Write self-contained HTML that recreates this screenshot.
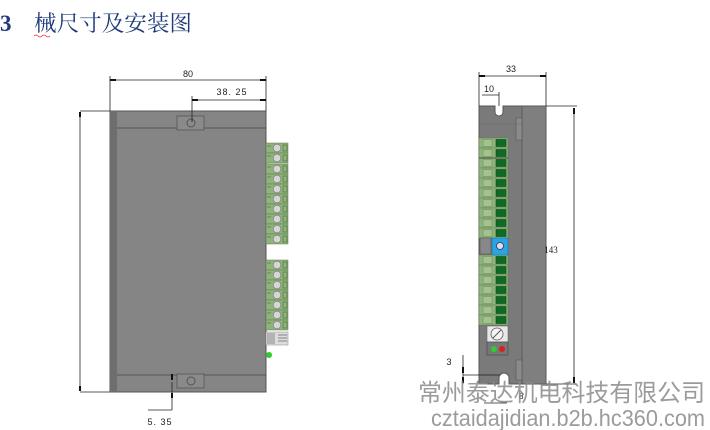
<!DOCTYPE html>
<html><head><meta charset="utf-8"><style>
html,body{margin:0;padding:0;background:#fff;width:710px;height:430px;overflow:hidden}
svg{display:block}
text{font-family:"Liberation Sans","Noto Sans CJK SC",sans-serif}
</style></head><body>
<svg width="710" height="430" viewBox="0 0 710 430" xmlns="http://www.w3.org/2000/svg">
<defs>
<g id="lc">
<rect x="0" y="0" width="22" height="10" fill="#8fb37a" stroke="#5d7a4f" stroke-width="0.5"/>
<circle cx="11" cy="5" r="3.8" fill="#d6d6d6" stroke="#777" stroke-width="0.6"/>
<rect x="17" y="2" width="4" height="6" fill="none" stroke="#4c6a40" stroke-width="0.6"/>
<line x1="1" y1="3" x2="5" y2="3" stroke="#4c6a40" stroke-width="0.6"/>
</g>
<g id="rc">
<rect x="0" y="0" width="29" height="10" fill="#8fb37a" stroke="#5d7a4f" stroke-width="0.5"/>
<rect x="4" y="1.5" width="9" height="7" fill="#a3c28f" stroke="#6b8a5c" stroke-width="0.5"/>
<rect x="17" y="1.5" width="10" height="7" fill="#0f6a26" stroke="#0a4a18" stroke-width="0.6"/>
</g>
</defs>
<text x="0" y="31" style="font-family:'Liberation Serif',serif;font-weight:bold" font-size="23" fill="#1f3a7a">3</text>
<text x="34" y="31" style="font-family:'Liberation Serif','Noto Serif CJK SC',serif" font-size="22" fill="#1f3a7a" textLength="158" lengthAdjust="spacingAndGlyphs">械尺寸及安装图</text>
<path d="M34 36 q2 -2 4 0 t4 0 t4 0 t4 0" stroke="#d33" fill="none" stroke-width="0.8"/>

<!-- left view -->
<rect x="110" y="111" width="156" height="281" fill="#858585" stroke="#555" stroke-width="1"/>
<rect x="110" y="111" width="7" height="281" fill="#6e6e6e"/>
<line x1="117" y1="128" x2="266" y2="128" stroke="#555"/>
<line x1="117" y1="375" x2="266" y2="375" stroke="#555"/>
<rect x="177" y="116" width="27" height="14" fill="#8a8a8a" stroke="#555" stroke-width="0.8"/>
<circle cx="191" cy="123" r="4" fill="none" stroke="#555"/>
<rect x="177" y="374" width="27" height="14" fill="#8a8a8a" stroke="#555" stroke-width="0.8"/>
<circle cx="191" cy="381" r="4" fill="none" stroke="#555"/>
<g>
<use href="#lc" x="266" y="143"/><use href="#lc" x="266" y="153"/><use href="#lc" x="266" y="164"/><use href="#lc" x="266" y="174"/><use href="#lc" x="266" y="184"/><use href="#lc" x="266" y="194"/><use href="#lc" x="266" y="204"/><use href="#lc" x="266" y="214"/><use href="#lc" x="266" y="224"/><use href="#lc" x="266" y="234"/>
<use href="#lc" x="266" y="260"/><use href="#lc" x="266" y="270"/><use href="#lc" x="266" y="280"/><use href="#lc" x="266" y="290"/><use href="#lc" x="266" y="300"/><use href="#lc" x="266" y="310"/><use href="#lc" x="266" y="320"/>
</g>
<rect x="266" y="332" width="22" height="13" fill="#ddd" stroke="#888" stroke-width="0.5"/>
<path d="M268 333v11M270 333v11M272 333v11M274 333v11M278 335h9M278 338h9M278 341h9" stroke="#666" stroke-width="0.7"/>
<circle cx="269" cy="355" r="3" fill="#2ecc2e"/>
<!-- dims left -->
<g stroke="#222" stroke-width="0.8" fill="none">
<line x1="110" y1="80" x2="266" y2="80"/><line x1="110" y1="76" x2="110" y2="111"/><line x1="266" y1="76" x2="266" y2="111"/>
<line x1="192" y1="100" x2="266" y2="100"/><line x1="192" y1="96" x2="192" y2="122"/>
<line x1="80" y1="111" x2="110" y2="111"/><line x1="80" y1="392" x2="110" y2="392"/><line x1="80" y1="113" x2="80" y2="390"/>
<line x1="172" y1="382" x2="172" y2="410"/><line x1="148" y1="410" x2="172" y2="410"/>
</g>
<g fill="#111">
<rect x="110" y="79" width="6" height="2"/><rect x="260" y="79" width="6" height="2"/>
<rect x="192" y="99" width="6" height="2"/><rect x="260" y="99" width="6" height="2"/>
<rect x="79" y="112" width="2" height="5"/><rect x="79" y="386" width="2" height="5"/>
<rect x="171" y="374" width="2" height="6"/><rect x="171" y="393" width="2" height="5"/>
</g>
<text x="188" y="77" font-size="9" text-anchor="middle" fill="#222">80</text>
<text x="232" y="95" font-size="9" text-anchor="middle" fill="#222" letter-spacing="1">38. 25</text>
<text x="160" y="425" font-size="9" text-anchor="middle" fill="#222" letter-spacing="1">5. 35</text>

<!-- right view -->
<path d="M479 106 H495 V112 a4 4 0 0 0 8 0 V106 H546 V384 H509 V378 a5 5 0 0 0 -10 0 V384 H479 Z" fill="#7a7a7a" stroke="#555"/>
<rect x="522" y="106" width="24" height="278" fill="#7f7f7f" stroke="#555" stroke-width="0.8"/>
<path d="M516 118 h6 v22 h-6 z M516 360 h6 v20 h-6 z" fill="#8a8a8a" stroke="#555" stroke-width="0.6"/>
<line x1="479" y1="124" x2="522" y2="124" stroke="#666" stroke-width="0.6"/>
<g>
<use href="#rc" x="479" y="138"/><use href="#rc" x="479" y="148"/><use href="#rc" x="479" y="158"/><use href="#rc" x="479" y="168"/><use href="#rc" x="479" y="178"/><use href="#rc" x="479" y="188"/><use href="#rc" x="479" y="198"/><use href="#rc" x="479" y="208"/><use href="#rc" x="479" y="218"/><use href="#rc" x="479" y="228"/>
<use href="#rc" x="479" y="255"/><use href="#rc" x="479" y="265"/><use href="#rc" x="479" y="275"/><use href="#rc" x="479" y="285"/><use href="#rc" x="479" y="295"/><use href="#rc" x="479" y="305"/><use href="#rc" x="479" y="315"/>
</g>
<line x1="479" y1="158" x2="508" y2="158" stroke="#333" stroke-width="0.8"/>
<rect x="480" y="238" width="11" height="16" fill="#888" stroke="#555" stroke-width="0.6"/>
<rect x="492" y="238" width="16" height="17" fill="#2aa4e0" stroke="#1777a8" stroke-width="0.6"/>
<circle cx="500" cy="246" r="3.5" fill="#dde" stroke="#335" stroke-width="0.8"/>
<rect x="487" y="326" width="21" height="16" fill="#e8e8e8" stroke="#666" stroke-width="0.6"/>
<circle cx="497" cy="334" r="6" fill="#f4f4f4" stroke="#555" stroke-width="0.8"/>
<line x1="493" y1="338" x2="501" y2="330" stroke="#555"/>
<rect x="487" y="342" width="21" height="13" fill="#777" stroke="#444" stroke-width="0.6"/>
<circle cx="494" cy="349" r="3" fill="#2ecc2e"/><circle cx="502" cy="349" r="3" fill="#d82020"/>
<!-- dims right -->
<g stroke="#222" stroke-width="0.8" fill="none">
<line x1="479" y1="76" x2="546" y2="76"/><line x1="479" y1="72" x2="479" y2="106"/><line x1="546" y1="72" x2="546" y2="106"/>
<line x1="482" y1="95" x2="499" y2="95"/><line x1="499" y1="92" x2="499" y2="106"/>
<line x1="546" y1="106" x2="577" y2="106"/><line x1="546" y1="384" x2="577" y2="384"/><line x1="574" y1="108" x2="574" y2="382"/>
<line x1="463" y1="355" x2="463" y2="384"/><line x1="463" y1="375" x2="500" y2="375"/>
<line x1="484" y1="403" x2="507" y2="403"/>
</g>
<g fill="#111">
<rect x="479" y="75" width="6" height="2"/><rect x="540" y="75" width="6" height="2"/>
<rect x="573" y="108" width="2" height="6"/><rect x="573" y="377" width="2" height="6"/>
<rect x="462" y="367" width="2" height="6"/><rect x="462" y="377" width="2" height="6"/>
</g>
<text x="511" y="72" font-size="9" text-anchor="middle" fill="#222">33</text>
<text x="489" y="92" font-size="9" text-anchor="middle" fill="#222">10</text>
<text x="551" y="253" style="font-family:'Liberation Serif',serif" font-size="9" text-anchor="middle" fill="#222">143</text>
<text x="449" y="365" font-size="9" text-anchor="middle" fill="#222">3</text>
<text x="519" y="399" font-size="8" fill="#222">8</text>

<!-- watermark -->
<text x="418" y="401" style="font-family:'Liberation Sans','Noto Sans CJK SC',sans-serif" font-size="24" fill="#8a8a8a" fill-opacity="0.85" textLength="287" lengthAdjust="spacingAndGlyphs">常州泰达机电科技有限公司</text>
<text x="431" y="426" font-size="23" fill="#8a8a8a" fill-opacity="0.85" textLength="274" lengthAdjust="spacingAndGlyphs">cztaidajidian.b2b.hc360.com</text>
</svg>
</body></html>
